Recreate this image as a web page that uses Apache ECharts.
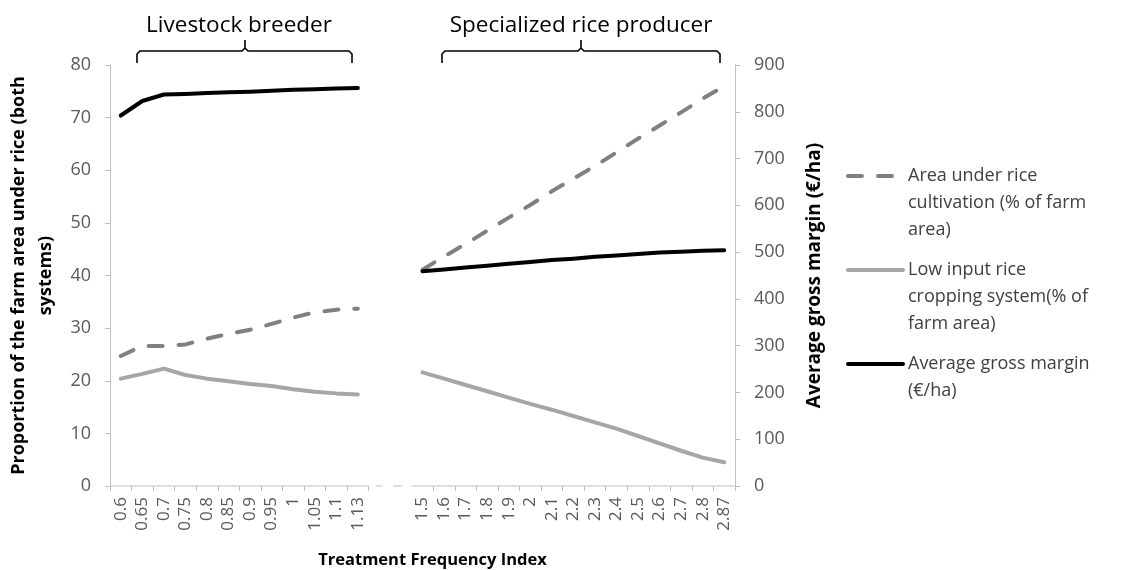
<!DOCTYPE html>
<html>
<head>
<meta charset="utf-8">
<script src="https://cdn.jsdelivr.net/npm/echarts@6/dist/echarts.min.js"></script>
<style>
  html, body { margin: 0; padding: 0; background: #fff; }
  #chart { width: 1129px; height: 570px; }
</style>
</head>
<body>
<div id="chart"></div>
<script>
// Treatment Frequency Index categories (two farm types, gap between them)
var tfiLivestock = ['0.6', '0.65', '0.7', '0.75', '0.8', '0.85', '0.9', '0.95', '1', '1.05', '1.1', '1.13'];
var tfiGap = [' ', '  '];
var tfiRice = ['1.5', '1.6', '1.7', '1.8', '1.9', '2', '2.1', '2.2', '2.3', '2.4', '2.5', '2.6', '2.7', '2.8', '2.87'];

// Area under rice cultivation (% of farm area)
var areaLivestock = [24.7, 26.6, 26.6, 26.9, 28.0, 28.9, 29.7, 30.8, 32.0, 33.0, 33.5, 33.7];
var areaRice = [41.1, 43.6, 46.0, 48.5, 51.0, 53.4, 56.0, 58.4, 60.8, 63.4, 66.0, 68.5, 71.0, 73.6, 76.0];

// Low input rice cropping system (% of farm area)
var lowInputLivestock = [20.4, 21.3, 22.3, 21.1, 20.4, 19.9, 19.4, 19.0, 18.4, 17.9, 17.6, 17.4];
var lowInputRice = [21.6, 20.4, 19.2, 18.0, 16.8, 15.6, 14.5, 13.3, 12.1, 10.9, 9.5, 8.1, 6.7, 5.4, 4.5];

// Average gross margin (€/ha)
var marginLivestock = [792, 823, 837, 838, 840, 842, 843, 845, 847, 848, 850, 851];
var marginRice = [459, 463, 467, 471, 475, 479, 483, 486, 490, 493, 496, 499, 501, 503, 504];

var leftTicks = { min: 0, max: 80, interval: 10 };
var rightTicks = { min: 0, max: 900, interval: 100 };

var nameArea = 'Area under rice cultivation (% of farm area)';
var nameLow = 'Low input rice cropping system(% of farm area)';
var nameMargin = 'Average gross margin (€/ha)';
var legendText = {};
legendText[nameArea] = ['Area under rice', 'cultivation (% of farm', 'area)'];
legendText[nameLow] = ['Low input rice', 'cropping system(% of', 'farm area)'];
legendText[nameMargin] = ['Average gross margin', '(€/ha)'];

var FONT = '"Open Sans", "Noto Sans", sans-serif';
var AXIS_GREY = '#bfbfbf';
var LH = 27;

var categories = tfiLivestock.concat(tfiGap, tfiRice);
function joined(a, b) { return a.concat([null, null], b); }

var chart = echarts.init(document.getElementById('chart'));

// one legend per item so the icon sits beside the first text line
function legendFor(name, iconY) {
  var lines = legendText[name];
  var n = lines.length;
  return {
    orient: 'vertical', left: 846, top: iconY - (2 * n - 1) * LH / 2, padding: 0,
    itemWidth: 55, itemHeight: 14,
    data: [{ name: name }],
    lineStyle: { width: 4 },
    itemStyle: { opacity: 0 },
    formatter: function () { return new Array(n).join('\n') + lines.join('\n'); },
    textStyle: { fontFamily: FONT, fontSize: 18, lineHeight: LH, color: '#404040' }
  };
}

var option = {
  animation: false,
  textStyle: { fontFamily: FONT },
  grid: { left: 110, right: 394, top: 65, bottom: 84, outerBoundsMode: 'none', containLabel: false },
  legend: [
    legendFor(nameArea, 176),
    legendFor(nameLow, 270),
    legendFor(nameMargin, 364)
  ],
  xAxis: {
    type: 'category',
    data: categories,
    boundaryGap: true,
    name: 'Treatment Frequency Index',
    nameLocation: 'middle',
    nameGap: 66,
    nameTextStyle: { fontFamily: FONT, fontSize: 16.5, fontWeight: 'bold', color: '#000', padding: [0, 0, 0, 20] },
    axisLine: { show: false },
    axisTick: {
      show: true, length: 5, lineStyle: { color: AXIS_GREY },
      interval: function (i) { return i <= 12 || i >= 15; }
    },
    axisLabel: { interval: 0, rotate: 90, margin: 11, fontSize: 17, color: '#595959', fontFamily: FONT },
    splitLine: { show: false }
  },
  yAxis: [
    {
      type: 'value', min: leftTicks.min, max: leftTicks.max, interval: leftTicks.interval,
      name: 'Proportion of the farm area under rice (both\nsystems)',
      nameLocation: 'middle', nameGap: 50, nameRotate: 90,
      nameTextStyle: { fontFamily: FONT, fontSize: 18, fontWeight: 'bold', color: '#000', lineHeight: 27 },
      axisLine: { show: true, lineStyle: { color: AXIS_GREY, width: 1 } },
      axisTick: { show: true, length: 5, lineStyle: { color: AXIS_GREY } },
      axisLabel: { margin: 19, fontSize: 18, color: '#595959', fontFamily: FONT },
      splitLine: { show: false }
    },
    {
      type: 'value', min: rightTicks.min, max: rightTicks.max, interval: rightTicks.interval,
      position: 'right',
      name: 'Average gross margin (€/ha)',
      nameLocation: 'middle', nameGap: 70, nameRotate: 90,
      nameTextStyle: { fontFamily: FONT, fontSize: 19, fontWeight: 'bold', color: '#000' },
      axisLine: { show: true, lineStyle: { color: AXIS_GREY, width: 1 } },
      axisTick: { show: true, length: 5, lineStyle: { color: AXIS_GREY } },
      axisLabel: { margin: 19, fontSize: 18, color: '#595959', fontFamily: FONT },
      splitLine: { show: false }
    }
  ],
  series: [
    {
      name: nameArea, type: 'line', yAxisIndex: 0, symbol: 'none', connectNulls: false,
      data: joined(areaLivestock, areaRice),
      lineStyle: { color: '#808080', width: 4, type: [14, 16], cap: 'round' },
      itemStyle: { color: '#808080' }
    },
    {
      name: nameLow, type: 'line', yAxisIndex: 0, symbol: 'none', connectNulls: false,
      data: joined(lowInputLivestock, lowInputRice),
      lineStyle: { color: '#a6a6a6', width: 4, cap: 'round', join: 'round' },
      itemStyle: { color: '#a6a6a6' }
    },
    {
      name: nameMargin, type: 'line', yAxisIndex: 1, symbol: 'none', connectNulls: false,
      data: joined(marginLivestock, marginRice),
      lineStyle: { color: '#000', width: 4, cap: 'round', join: 'round' },
      itemStyle: { color: '#000' }
    }
  ]
};
chart.setOption(option);

// broken x axis line + farm type brackets, placed from the axis scale
var px = function (i) { return chart.convertToPixel({ xAxisIndex: 0 }, i); };
var bw = px(1) - px(0);
var y0 = chart.convertToPixel({ yAxisIndex: 0 }, 0);
var xL = px(0) - bw / 2, xG0 = px(12) - bw / 2, xG1 = px(13) + bw / 2, xR = px(28) + bw / 2;
var gl = { stroke: AXIS_GREY, lineWidth: 1 };
function seg(a, b) { return { type: 'line', shape: { x1: a, y1: y0, x2: b, y2: y0 }, style: gl, silent: true }; }
var gw = xG1 - xG0;

function bracket(x1, x2, xm, label, textX) {
  var top = 51, bot = 63, notch = 40;
  return [
    { type: 'polyline', silent: true,
      shape: { points: [[x1, bot], [x1, top + 3], [x1 + 3, top], [xm - 3, top], [xm, top - 3], [xm, notch],
                        [xm, top - 3], [xm + 3, top], [x2 - 3, top], [x2, top + 3], [x2, bot]] },
      style: { stroke: '#000', lineWidth: 1.6, fill: null } },
    { type: 'text', silent: true, x: textX, y: 26,
      style: { text: label, font: '22.5px ' + FONT, fill: '#000', align: 'center', verticalAlign: 'middle' } }
  ];
}

chart.setOption({
  graphic: [
    seg(xL, xG0),
    seg(xG0 + gw * 0.17, xG0 + gw * 0.32),
    seg(xG0 + gw * 0.57, xG0 + gw * 0.78),
    seg(xG1, xR)
  ].concat(bracket(137, 352, 245, 'Livestock breeder', 239),
           bracket(442, 720, 581, 'Specialized rice producer', 581))
});
</script>
</body>
</html>
